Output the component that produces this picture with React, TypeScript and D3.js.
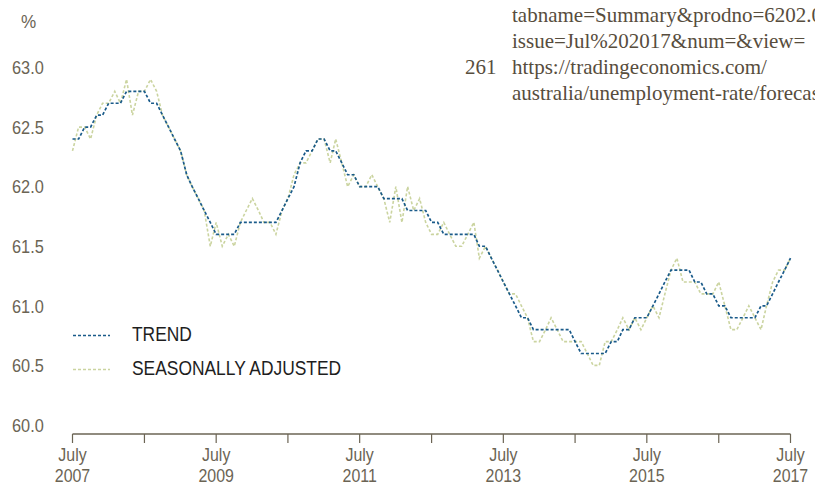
import React from 'react';
import * as d3 from 'd3';

// Monthly values, July 2007 .. July 2017 (participation rate, %)
const trend = [
  62.4, 62.4, 62.5, 62.5, 62.6, 62.6, 62.7, 62.7, 62.7, 62.8, 62.8, 62.8,
  62.8, 62.7, 62.7, 62.6, 62.5, 62.4, 62.3, 62.1, 62.0, 61.9, 61.8, 61.7,
  61.6, 61.6, 61.6, 61.6, 61.7, 61.7, 61.7, 61.7, 61.7, 61.7, 61.7, 61.8,
  61.9, 62.0, 62.2, 62.3, 62.3, 62.4, 62.4, 62.3, 62.3, 62.2, 62.1, 62.1,
  62.0, 62.0, 62.0, 62.0, 61.9, 61.9, 61.9, 61.9, 61.8, 61.8, 61.8, 61.8,
  61.7, 61.7, 61.6, 61.6, 61.6, 61.6, 61.6, 61.6, 61.5, 61.5, 61.4, 61.3,
  61.2, 61.1, 61.0, 60.9, 60.9, 60.8, 60.8, 60.8, 60.8, 60.8, 60.8, 60.8,
  60.7, 60.6, 60.6, 60.6, 60.6, 60.6, 60.7, 60.7, 60.8, 60.8, 60.9, 60.9,
  60.9, 61.0, 61.1, 61.2, 61.3, 61.3, 61.3, 61.3, 61.2, 61.2, 61.1, 61.1,
  61.0, 61.0, 60.9, 60.9, 60.9, 60.9, 60.9, 61.0, 61.0, 61.1, 61.2, 61.3,
  61.4,
];

const seasonal = [
  62.3, 62.5, 62.5, 62.4, 62.6, 62.7, 62.7, 62.8, 62.7, 62.9, 62.6, 62.8,
  62.8, 62.9, 62.8, 62.6, 62.5, 62.4, 62.3, 62.1, 62.0, 61.9, 61.8, 61.5,
  61.7, 61.5, 61.6, 61.5, 61.7, 61.8, 61.9, 61.8, 61.7, 61.7, 61.6, 61.8,
  61.9, 62.1, 62.2, 62.2, 62.3, 62.4, 62.4, 62.2, 62.4, 62.2, 62.0, 62.1,
  62.0, 62.0, 62.1, 62.0, 61.9, 61.7, 62.0, 61.7, 62.0, 61.8, 61.9, 61.7,
  61.6, 61.6, 61.7, 61.6, 61.5, 61.5, 61.6, 61.7, 61.4, 61.5, 61.4, 61.3,
  61.2, 61.1, 61.1, 61.0, 60.9, 60.7, 60.7, 60.8, 60.9, 60.8, 60.7, 60.7,
  60.7, 60.7, 60.6, 60.5, 60.5, 60.7, 60.7, 60.8, 60.9, 60.8, 60.9, 60.8,
  60.9, 61.0, 60.9, 61.1, 61.3, 61.4, 61.2, 61.2, 61.2, 61.1, 61.1, 61.1,
  61.2, 61.0, 60.8, 60.8, 60.9, 61.0, 60.9, 60.8, 61.0, 61.2, 61.3, 61.3,
  61.4,
];

const yTicks = [60.0, 60.5, 61.0, 61.5, 62.0, 62.5, 63.0];
const tickYears = [2007, 2008, 2009, 2010, 2011, 2012, 2013, 2014, 2015, 2016, 2017];
const labelYears = [2007, 2009, 2011, 2013, 2015, 2017];

const footnote = [
  'tabname=Summary&prodno=6202.0&issue=Jul%202017',
  'issue=Jul%202017&num=&view=',
];
const footnoteNo = '261';
const footnoteUrl = ['https://tradingeconomics.com/', 'australia/unemployment-rate/forecast'];

const W = 815;
const H = 494;
const TREND_COLOR = '#1a5b8a';
const SA_COLOR = '#cbd4a0';
const AXIS_COLOR = '#6b6454';
const SANS = '"Liberation Sans", Arial, sans-serif';
const SERIF = '"Liberation Serif", "DejaVu Serif", serif';

const months = d3.range(trend.length).map((i) => new Date(2007, 6 + i, 1));

// condensed sans text: the original uses a narrow face, so squeeze horizontally
function Narrow({ x, y, size, sx = 0.82, anchor = 'start', fill, children }: any) {
  return (
    <text
      transform={`translate(${x},${y}) scale(${sx},1)`}
      fontFamily={SANS}
      fontSize={size}
      textAnchor={anchor}
      fill={fill}
    >
      {children}
    </text>
  );
}

export default function App() {
  const x = d3
    .scaleTime()
    .domain([new Date(2007, 6, 1), new Date(2017, 6, 1)])
    .range([72.5, 790.5]);
  const y = d3.scaleLinear().domain([60, 63]).range([425, 67.5]);

  const line = d3
    .line<number>()
    .x((_, i) => x(months[i]))
    .y((d) => y(d));

  const axisY = 434;

  return (
    <>
      <style>{'body{margin:0}'}</style>
      <svg width={W} height={H} style={{ display: 'block', background: '#fff' }}>
        {/* footnote text, top right */}
        <g fontFamily={SERIF} fontSize={21} fill="#574d3d">
          {footnote.map((t, i) => (
            <text key={t} x={512} y={22 + i * 26}>
              {t}
            </text>
          ))}
          <text x={465} y={74}>
            {footnoteNo}
          </text>
          {footnoteUrl.map((t, i) => (
            <text key={t} x={512} y={74 + i * 26}>
              {t}
            </text>
          ))}
        </g>

        {/* y unit */}
        <Narrow x={21} y={28} size={19} sx={0.9} fill={AXIS_COLOR}>
          %
        </Narrow>

        {/* y tick labels */}
        {yTicks.map((t) => (
          <Narrow key={t} x={12} y={y(t) + 6.8} size={19} sx={0.86} fill={AXIS_COLOR}>
            {t.toFixed(1)}
          </Narrow>
        ))}

        {/* series */}
        <path
          d={line(seasonal) ?? ''}
          fill="none"
          stroke={SA_COLOR}
          strokeWidth={1.6}
          strokeDasharray="3,2"
        />
        <path
          d={line(trend) ?? ''}
          fill="none"
          stroke={TREND_COLOR}
          strokeWidth={1.7}
          strokeDasharray="3,2"
        />

        {/* x axis */}
        <line
          x1={x(new Date(2007, 6, 1))}
          x2={x(new Date(2017, 6, 1))}
          y1={axisY}
          y2={axisY}
          stroke={AXIS_COLOR}
          strokeWidth={1.5}
        />
        {tickYears.map((yr) => {
          const px = x(new Date(yr, 6, 1));
          return (
            <line key={yr} x1={px} x2={px} y1={axisY} y2={axisY + 9} stroke={AXIS_COLOR} strokeWidth={1.2} />
          );
        })}
        {labelYears.map((yr) => {
          const px = x(new Date(yr, 6, 1));
          return (
            <g key={yr}>
              <Narrow x={px} y={461} size={19} sx={0.84} anchor="middle" fill={AXIS_COLOR}>
                July
              </Narrow>
              <Narrow x={px} y={482} size={19} sx={0.84} anchor="middle" fill={AXIS_COLOR}>
                {yr}
              </Narrow>
            </g>
          );
        })}

        {/* legend */}
        <line x1={73} x2={110} y1={335.5} y2={335.5} stroke={TREND_COLOR} strokeWidth={1.6} strokeDasharray="3,2" />
        <Narrow x={132} y={341} size={20} sx={0.87} fill="#1e1e1e">
          TREND
        </Narrow>
        <line x1={73} x2={110} y1={369.5} y2={369.5} stroke={SA_COLOR} strokeWidth={1.6} strokeDasharray="3,2" />
        <Narrow x={132} y={375} size={20} sx={0.87} fill="#1e1e1e">
          SEASONALLY ADJUSTED
        </Narrow>
      </svg>
    </>
  );
}
